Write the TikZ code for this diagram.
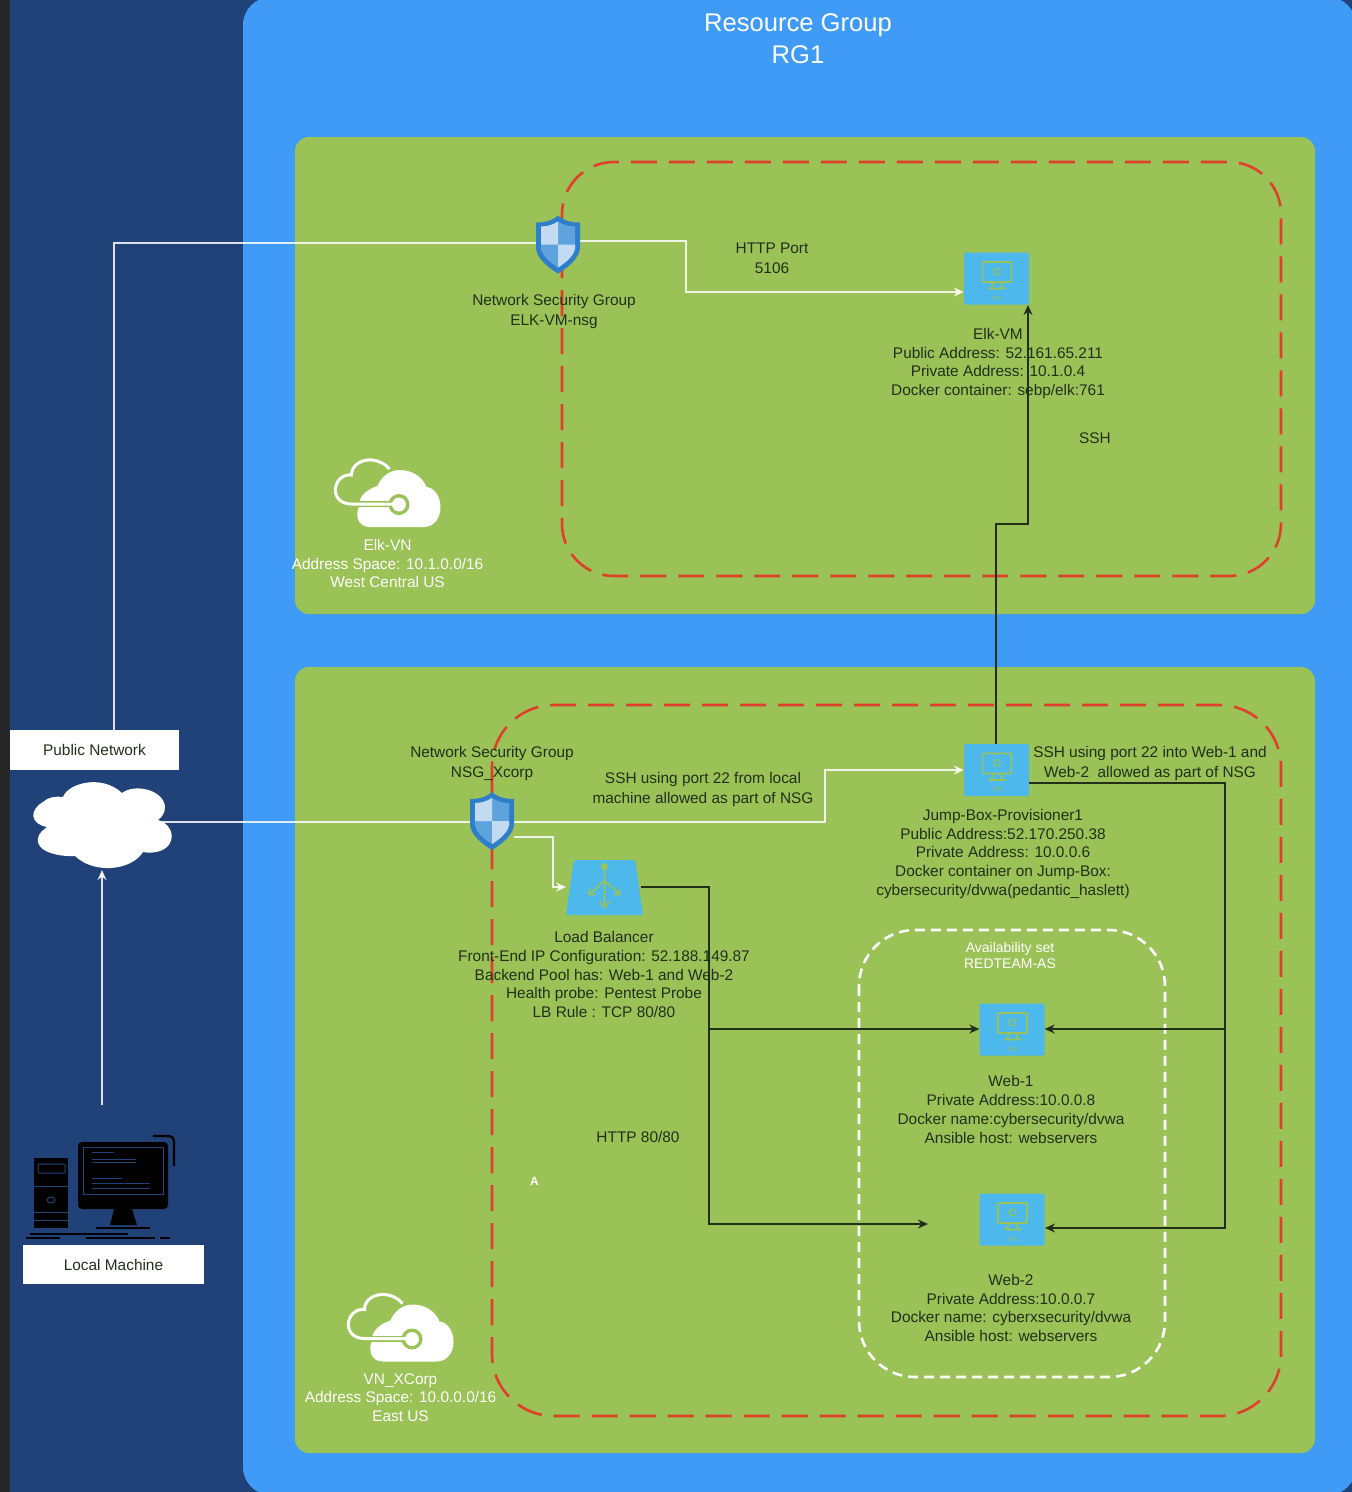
\documentclass[tikz,border=0pt]{standalone}
\usepackage{fontspec}
\setmainfont{Liberation Sans}
\usetikzlibrary{shapes.geometric,arrows.meta}
\definecolor{navy}{HTML}{204278}
\definecolor{sky}{HTML}{3F9BF6}
\definecolor{leaf}{HTML}{9AC256}
\definecolor{azure}{HTML}{4DB8EC}
\definecolor{redline}{HTML}{E0402B}
\definecolor{ink}{HTML}{22301A}
\definecolor{shieldrim}{HTML}{2F7EC9}
\definecolor{shieldmid}{HTML}{5FA3DE}
\definecolor{shieldpale}{HTML}{C3DBF0}
\tikzset{
  shieldicon/.pic={
    \fill[shieldrim] (0,-29) .. controls (-7,-23) and (-14,-22) .. (-22,-22) -- (-22,4) .. controls (-21,14) and (-10,23) .. (0,29) .. controls (10,23) and (21,14) .. (22,4) -- (22,-22) .. controls (14,-22) and (7,-23) .. (0,-29) -- cycle;
    \fill[shieldmid] (0,-23) .. controls (-6,-19) and (-12,-18) .. (-17,-18) -- (-17,4) .. controls (-16,11) and (-8,18) .. (0,23) .. controls (8,18) and (16,11) .. (17,4) -- (17,-18) .. controls (12,-18) and (6,-19) .. (0,-23) -- cycle;
    \fill[shieldpale] (0,-23) .. controls (-6,-19) and (-12,-18) .. (-17,-18) -- (-17,0) -- (0,0) -- cycle;
    \fill[shieldpale] (0,0) -- (17,0) -- (17,4) .. controls (16,11) and (8,18) .. (0,23) -- cycle;
  },
  vnetcloud/.pic={
    \fill[white] (-18,33) .. controls (-30,33) and (-33,20) .. (-28,12) .. controls (-30,3) and (-20,-5) .. (-10,-8) .. controls (-6,-18) and (3,-24) .. (12,-24) .. controls (25,-24) and (35,-17) .. (39,-7) .. controls (48,-6) and (53,4) .. (53,13) .. controls (53,25) and (46,33) .. (36,33) -- cycle;
    \draw[leaf,line width=6pt] (-32,10) -- (8,10);
    \fill[leaf] (11.5,10.5) circle (10.5);
    \draw[white,line width=3pt] (11.5,10) -- (-36,10) .. controls (-48,10) and (-53,2) .. (-52,-6) .. controls (-51,-14) and (-44,-20) .. (-36,-19) .. controls (-36,-29) and (-26,-35) .. (-15,-34) .. controls (-8,-33) and (-2,-30) .. (2,-25);
    \fill[white] (11.5,10.5) circle (7);
  }
}
\begin{document}
\begin{tikzpicture}[x=1pt,y=-1pt]
  \tikzstyle{wirew}=[color=white, opacity=0.85, line width=1.6pt, >={Stealth[length=10pt,width=9pt]}]
  \tikzstyle{wirek}=[color=ink, line width=1.6pt, >={Stealth[length=10pt,width=9pt]}]
  \tikzstyle{txt}=[color=ink, align=center, inner sep=0pt, font=\fontsize{15.4}{18.7}\selectfont]
  \tikzstyle{wide}=[font=\fontsize{15.4}{20}\selectfont]
  \tikzstyle{txtw}=[txt, color=white]
  \tikzstyle{whitebox}=[fill=white, inner sep=0pt, text=ink, font=\fontsize{15.4}{18.7}\selectfont]
  \tikzstyle{vmbox}=[fill=azure, rounded corners=2pt, minimum width=65pt, minimum height=52pt, inner sep=0pt]
  \tikzstyle{shieldbox}=[minimum width=44pt, minimum height=58pt, inner sep=0pt]
  \useasboundingbox (0,0) rectangle (1352,1492);
  \fill[navy] (0,0) rectangle (1352,1492);
  \fill[black!85] (0,0) rectangle (10,1492);
  \fill[sky, rounded corners=28pt] (243,-3) rectangle (1356,1495);
  \fill[leaf, rounded corners=14pt] (295,137) rectangle (1315,614);
  \fill[leaf, rounded corners=14pt] (295,667) rectangle (1315,1453);
  \draw[redline, line width=2.6pt, dash pattern=on 26pt off 12pt, rounded corners=52pt] (562,162) rectangle (1281,576);
  \draw[redline, line width=2.6pt, dash pattern=on 26pt off 12pt, rounded corners=62pt] (492,705) rectangle (1281,1416);
  \draw[white, line width=2.6pt, dash pattern=on 10pt off 6pt, rounded corners=56pt] (859,930) rectangle (1165,1377);
  \node[shieldbox] (NSe) at (558,244.5) {};
  \node[shieldbox] (NSx) at (492,821) {};
  \node[vmbox] (VMe) at (996.5,278.5) {};
  \node[vmbox] (VMj) at (996.5,770) {};
  \node[vmbox] (VMa) at (1012,1029.5) {};
  \node[vmbox] (VMb) at (1012,1219.5) {};
  \node[trapezium, trapezium stretches=true, trapezium left angle=83, trapezium right angle=83, fill=azure, rounded corners=2pt, minimum width=77pt, minimum height=55pt, inner sep=1pt] (LB) at (604.5,887.5) {\phantom{x}};
  \node[whitebox, minimum width=169pt, minimum height=40pt] (PN) at (94.5,750) {Public Network};
  \node[whitebox, minimum width=181pt, minimum height=39pt] (LM) at (113.5,1264.5) {Local Machine};
  \node[minimum width=130pt, minimum height=84pt, inner sep=0pt] (CL) at (103.5,824) {};
  \coordinate (PNup) at (114,730);
  \coordinate (ELKturn) at (686,292);
  \coordinate (CLout) at (158,822);
  \coordinate (JMPturn) at (825,770);
  \coordinate (NSxout) at (514,837);
  \coordinate (LBin) at (566,887);
  \coordinate (PCup) at (102,1105);
  \coordinate (CLin) at (102,870);
  \coordinate (JMPup) at (996,744);
  \coordinate (STEPa) at (996,524);
  \coordinate (STEPb) at (1028,524);
  \coordinate (ELKin) at (1028,305);
  \coordinate (JMPout) at (1029,783);
  \coordinate (SSHturn) at (1225,783);
  \coordinate (SSHend) at (1225,1228);
  \coordinate (SSHmid) at (1225,1029);
  \coordinate (WEBb) at (1045,1228);
  \coordinate (LBout) at (641,887);
  \coordinate (HTTPturn) at (709,887);
  \coordinate (HTTPend) at (709,1224);
  \coordinate (HTTPmid) at (709,1029);
  \coordinate (HTTPin) at (928,1224);
  \draw [wirew] (PNup) -- (114,243) -- (NSe.west |- 0,243);
  \draw [wirew,->] (NSe.east |- 0,241) -| (ELKturn) -- (VMe.west |- ELKturn);
  \draw [wirew,->] (CLout) -| (JMPturn) -- (VMj.west);
  \draw [wirew,->] (NSxout) -| (553,870) |- (LBin);
  \draw [wirew,->] (PCup) -- (CLin);
  \draw [wirek,->] (JMPup) -- (STEPa) -- (STEPb) -- (ELKin);
  \draw [wirek,->] (JMPout) -- (SSHturn) -- (SSHend) -- (WEBb);
  \draw [wirek,->] (SSHmid) -- (VMa.east |- SSHmid);
  \draw [wirek,->] (LBout) -- (HTTPturn) -- (HTTPend) -- (HTTPin);
  \draw [wirek,->] (HTTPmid) -- (VMa.west |- HTTPmid);
  \fill[white] (47,827) .. controls (30,824) and (29,810) .. (43,802) .. controls (48,797) and (56,796) .. (63,797) .. controls (68,783) and (102,774) .. (122,793) .. controls (135,783) and (164,790) .. (165,807) .. controls (165,813) and (162,817) .. (158,820) .. controls (175,825) and (177,845) .. (160,851) .. controls (154,853) and (148,853) .. (143,852) .. controls (132,870) and (95,875) .. (75,856) .. controls (60,857) and (35,852) .. (38,838) .. controls (39,833) and (43,830) .. (47,827) -- cycle;
  \foreach \s in {NSe,NSx} \pic at (\s.center) {shieldicon};
  \foreach \v in {VMe,VMj,VMa,VMb} {
    \begin{scope}[shift={(\v.center)}, color=leaf]
      \draw[line width=1.6pt, rounded corners=1pt] (-14,-16.5) rectangle (15,3.5);
      \draw[line width=1.1pt] (0.5,-7) circle (3.5);
      \draw[line width=1.6pt] (-3,3.5) -- (-5,9.5) (4,3.5) -- (6,9.5) (-8,10) -- (9,10);
      \node[inner sep=0pt, text=leaf, font=\fontsize{6}{6}\selectfont] (\v t) at (0.5,19.5) {VM};
    \end{scope}
  }
  \begin{scope}[shift={(LB.center)}, color=leaf, line width=1.6pt]
    \fill (0,-21) circle (3.5);
    \draw (0,-21) -- (0,18) (0,-7) -- (-15,7) (0,-7) -- (15,7);
    \draw (-5,14) -- (0,20) -- (5,14) (-15,1) -- (-15,7) -- (-9,7) (15,1) -- (15,7) -- (9,7);
  \end{scope}
  \pic at (387.5,494) {vnetcloud};
  \pic at (400.5,1328.5) {vnetcloud};
  \begin{scope}
    \fill[black] (34,1158) rectangle (68,1228);
    \draw[navy, line width=1pt, rounded corners=1pt] (38,1164) rectangle (65,1173);
    \draw[navy, line width=1pt] (51,1200) ellipse (4 and 3);
    \draw[navy, line width=1pt] (34,1186) -- (68,1186) (34,1212) -- (68,1212) (34,1220) -- (68,1220);
    \fill[black, rounded corners=4pt] (78,1142) rectangle (168,1209);
    \draw[navy, line width=1pt] (83,1147) rectangle (163,1194);
    \draw[navy, line width=1pt] (92,1152) -- (114,1152) (92,1159) -- (136,1159) (92,1162) -- (136,1162) (92,1178) -- (122,1178) (92,1183) -- (150,1183) (92,1188) -- (150,1188);
    \draw[navy, line width=1pt] (123,1214) circle (2.5);
    \fill[black] (114,1209) -- (132,1209) -- (137,1225) -- (110,1225) -- cycle;
    \draw[black, line width=2pt] (96,1228) -- (150,1228) (30,1234) -- (128,1234) (26,1238) -- (60,1238) (86,1238) -- (155,1238) (160,1238) -- (170,1238);
    \draw[black, line width=2.4pt, rounded corners=5pt] (153,1136) -- (174,1136) -- (174,1166);
  \end{scope}
  \node[txtw, font=\fontsize{25.6}{32}\selectfont] (RGt) at (798,39) {Resource Group\\RG1};
  \node[txt, wide] (HTp) at (772,258.5) {HTTP Port\\5106};
  \node[txt, wide] (NSeT) at (554,311.5) {Network Security Group\\ELK-VM-nsg};
  \node[txt] (VMeT) at (998,363.5) {Elk-VM\\Public Address: 52.161.65.211\\Private Address: 10.1.0.4\\Docker container: sebp/elk:761};
  \node[txt] (SSHt) at (1095,438.5) {SSH};
  \node[txtw] (ELKv) at (387.5,563.5) {Elk-VN\\Address Space: 10.1.0.0/16\\West Central US};
  \node[txt, wide] (NSxT) at (492,763.5) {Network Security Group\\NSG\_Xcorp};
  \node[txt, wide] (SSHa) at (703,789.5) {SSH using port 22 from local\\machine allowed as part of NSG};
  \node[txt, wide] (SSHb) at (1150,763.5) {SSH using port 22 into Web-1 and\\Web-2 \ allowed as part of NSG};
  \node[txt] (VMjT) at (1003,854) {Jump-Box-Provisioner1\\Public Address:52.170.250.38\\Private Address: 10.0.0.6\\Docker container on Jump-Box:\\cybersecurity/dvwa(pedantic\_haslett)};
  \node[txt] (LBt) at (604,974.5) {Load Balancer\\Front-End IP Configuration: 52.188.149.87\\Backend Pool has: Web-1 and Web-2\\Health probe: Pentest Probe\\LB Rule : TCP 80/80};
  \node[txtw, font=\fontsize{14}{16}\selectfont] (ASt) at (1010,955) {Availability set\\REDTEAM-AS};
  \node[txt] (VMaT) at (1011,1109.5) {Web-1\\Private Address:10.0.0.8\\Docker name:cybersecurity/dvwa\\Ansible host: webservers};
  \node[txt] (VMbT) at (1011,1308) {Web-2\\Private Address:10.0.0.7\\Docker name: cyberxsecurity/dvwa\\Ansible host: webservers};
  \node[txt] (HTq) at (638,1136.5) {HTTP 80/80};
  \node[txtw, font=\bfseries\fontsize{12}{13}\selectfont] (Amark) at (534.5,1181) {A};
  \node[txtw] (XCv) at (400.5,1397.5) {VN\_XCorp\\Address Space: 10.0.0.0/16\\East US};
\end{tikzpicture}
\end{document}
